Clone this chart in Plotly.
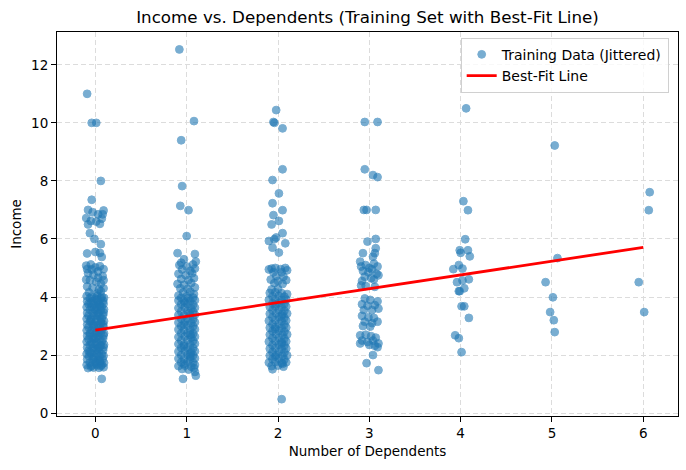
import plotly.graph_objects as go

# (jitter offset, income) pairs, one list per dependents value
DEP0 = [
    (-0.09, 11.0), (-0.04, 10.0), (0.01, 10.0), (0.06, 8.0), (-0.04, 7.35),
    (-0.08, 7.0), (0.09, 6.98), (-0.03, 6.92), (0.03, 6.85), (-0.1, 6.72),
    (0.07, 6.7), (-0.05, 6.62), (0.01, 6.6), (-0.08, 6.5), (0.05, 6.52),
    (0.08, 6.85), (-0.06, 6.2), (-0.01, 6.0), (0.06, 5.82), (-0.09, 5.5),
    (0.05, 5.52), (0.07, 5.38), (0.0, 5.55),
    (-0.1, 5.08), (-0.05, 5.12), (0.0, 5.02), (0.05, 5.06), (0.09, 4.96),
    (-0.08, 4.82), (-0.02, 4.76), (0.03, 4.88), (0.08, 4.72), (-0.06, 4.58),
    (0.01, 4.52), (0.06, 4.46), (-0.09, 4.36), (-0.03, 4.32), (0.04, 4.26),
    (0.09, 4.3), (-0.07, 4.16), (0.02, 4.12), (-0.1, 4.6), (0.09, 4.58),
    (-0.04, 4.95), (0.03, 4.66), (-0.09, 4.96), (0.06, 4.2),
    (-0.08, 1.55), (-0.02, 1.57), (0.04, 1.56), (0.09, 1.58),
    (-0.095, 1.66), (-0.04, 1.64), (0.02, 1.65), (0.07, 1.67),
    (-0.06, 1.74), (0.0, 1.76), (0.05, 1.75), (0.095, 1.73),
    (-0.09, 1.85), (-0.03, 1.86), (0.03, 1.84), (0.08, 1.86),
    (-0.07, 1.96), (-0.01, 1.94), (0.045, 1.95), (0.09, 1.97),
    (-0.095, 2.04), (-0.045, 2.06), (0.015, 2.05), (0.07, 2.03),
    (-0.075, 2.15), (-0.01, 2.16), (0.04, 2.14), (0.085, 2.16),
    (-0.09, 2.26), (-0.03, 2.24), (0.03, 2.25), (0.09, 2.27),
    (-0.06, 2.35), (0.0, 2.36), (0.06, 2.34), (0.095, 2.36),
    (-0.095, 2.46), (-0.045, 2.44), (0.015, 2.45), (0.07, 2.47),
    (-0.075, 2.55), (-0.01, 2.56), (0.045, 2.54), (0.085, 2.56),
    (-0.09, 2.66), (-0.03, 2.64), (0.03, 2.65), (0.09, 2.67),
    (-0.06, 2.75), (0.0, 2.74), (0.06, 2.76), (0.095, 2.75),
    (-0.095, 2.85), (-0.04, 2.86), (0.02, 2.84), (0.07, 2.86),
    (-0.075, 2.96), (-0.01, 2.94), (0.045, 2.95), (0.09, 2.97),
    (-0.09, 3.05), (-0.03, 3.06), (0.03, 3.04), (0.085, 3.06),
    (-0.06, 3.16), (0.0, 3.14), (0.06, 3.15), (0.095, 3.17),
    (-0.095, 3.25), (-0.045, 3.26), (0.015, 3.24), (0.07, 3.26),
    (-0.075, 3.36), (-0.01, 3.34), (0.045, 3.35), (0.085, 3.37),
    (-0.09, 3.45), (-0.03, 3.46), (0.03, 3.44), (0.09, 3.46),
    (-0.06, 3.56), (0.0, 3.54), (0.06, 3.55), (0.095, 3.57),
    (-0.095, 3.65), (-0.04, 3.66), (0.02, 3.64), (0.07, 3.66),
    (-0.075, 3.76), (-0.01, 3.74), (0.045, 3.75), (0.09, 3.77),
    (-0.09, 3.85), (-0.03, 3.86), (0.03, 3.84), (0.085, 3.86),
    (-0.06, 3.96), (0.0, 3.94), (0.06, 3.95), (0.095, 3.97),
    (-0.095, 4.03), (-0.04, 4.02), (0.02, 4.04), (0.07, 4.01),
    (-0.05, 1.6), (0.01, 1.7), (0.06, 1.62), (-0.02, 1.9), (0.05, 1.8),
    (-0.06, 2.1), (0.02, 2.2), (-0.03, 2.4), (0.05, 2.3), (0.0, 2.6),
    (-0.06, 2.7), (0.04, 2.8), (-0.02, 3.0), (0.06, 3.1), (-0.05, 3.2),
    (0.02, 3.4), (-0.01, 3.6), (0.05, 3.7), (-0.05, 3.8), (0.02, 3.9),
    (0.07, 1.18),
]

DEP1 = [
    (-0.08, 12.53), (0.08, 10.06), (-0.06, 9.4), (-0.05, 7.82), (-0.07, 7.14),
    (0.02, 6.99), (0.0, 6.1), (-0.1, 5.51), (0.09, 5.48), (-0.03, 5.3),
    (0.1, 5.22), (-0.06, 5.18),
    (-0.08, 5.1), (0.0, 5.05), (0.07, 5.12),
    (-0.05, 4.95), (0.04, 4.9), (0.09, 4.98),
    (-0.09, 4.8), (-0.01, 4.75), (0.06, 4.82),
    (-0.06, 4.62), (0.02, 4.58), (0.08, 4.65),
    (-0.1, 4.45), (-0.03, 4.42), (0.05, 4.48),
    (-0.07, 4.3), (0.01, 4.28), (0.09, 4.33),
    (-0.04, 4.15), (0.04, 4.18), (0.08, 4.1),
    (-0.09, 4.05), (0.0, 4.02),
    (-0.05, 1.52), (0.02, 1.5), (0.08, 1.55),
    (-0.09, 1.62), (-0.02, 1.64), (0.05, 1.6), (0.09, 1.66),
    (-0.06, 1.75), (0.01, 1.77), (0.07, 1.74),
    (-0.09, 1.88), (-0.03, 1.86), (0.04, 1.87), (0.09, 1.89),
    (-0.06, 2.0), (0.01, 2.02), (0.07, 1.99),
    (-0.09, 2.12), (-0.02, 2.14), (0.05, 2.11), (0.09, 2.13),
    (-0.06, 2.25), (0.01, 2.26), (0.07, 2.24),
    (-0.09, 2.38), (-0.03, 2.36), (0.04, 2.37), (0.09, 2.39),
    (-0.06, 2.5), (0.01, 2.52), (0.07, 2.49),
    (-0.09, 2.62), (-0.02, 2.64), (0.05, 2.61), (0.09, 2.63),
    (-0.06, 2.75), (0.01, 2.76), (0.07, 2.74),
    (-0.09, 2.88), (-0.03, 2.86), (0.04, 2.87), (0.09, 2.89),
    (-0.06, 3.0), (0.01, 3.02), (0.07, 2.99),
    (-0.09, 3.12), (-0.02, 3.14), (0.05, 3.11), (0.09, 3.13),
    (-0.06, 3.25), (0.01, 3.26), (0.07, 3.24),
    (-0.09, 3.38), (-0.03, 3.36), (0.04, 3.37), (0.09, 3.39),
    (-0.06, 3.5), (0.01, 3.52), (0.07, 3.49),
    (-0.09, 3.62), (-0.02, 3.64), (0.05, 3.61), (0.09, 3.63),
    (-0.06, 3.75), (0.01, 3.76), (0.07, 3.74),
    (-0.09, 3.88), (-0.03, 3.86), (0.04, 3.87), (0.09, 3.89),
    (-0.06, 3.97), (0.02, 3.96), (0.07, 3.98),
    (-0.03, 1.7), (0.04, 1.95), (-0.03, 2.3), (0.04, 2.7), (-0.03, 3.05),
    (0.03, 3.45), (-0.02, 3.8), (0.04, 2.05),
    (-0.04, 1.18), (0.1, 1.29), (0.09, 1.42),
]

DEP2 = [
    (-0.02, 10.44), (-0.05, 10.03), (-0.04, 10.0), (0.05, 9.81), (0.05, 8.4),
    (-0.06, 8.03), (0.01, 7.57), (-0.06, 7.23), (0.05, 6.99), (-0.05, 6.82),
    (0.01, 6.62), (-0.07, 6.5), (0.05, 6.2), (-0.1, 5.93), (-0.04, 5.99),
    (-0.02, 6.05), (0.08, 5.85), (-0.06, 5.7), (0.01, 5.53), (0.04, 0.48),
    (-0.1, 4.95), (-0.07, 4.98), (-0.03, 5.0), (0.03, 4.96), (0.08, 5.0),
    (0.1, 4.92), (-0.05, 4.85), (0.04, 4.85), (-0.02, 4.72), (0.06, 4.7),
    (-0.08, 4.6), (0.0, 4.55), (0.09, 4.58), (-0.04, 4.48), (0.05, 4.45),
    (0.1, 4.1),
    (-0.07, 1.62), (0.0, 1.64), (0.06, 1.6),
    (-0.1, 1.74), (-0.03, 1.76), (0.04, 1.73), (0.09, 1.75),
    (-0.06, 1.86), (0.01, 1.88), (0.07, 1.85),
    (-0.09, 1.98), (-0.02, 2.0), (0.05, 1.97), (0.1, 1.99),
    (-0.06, 2.1), (0.01, 2.12), (0.07, 2.09),
    (-0.09, 2.22), (-0.03, 2.24), (0.04, 2.21), (0.09, 2.23),
    (-0.06, 2.34), (0.01, 2.36), (0.07, 2.33),
    (-0.1, 2.46), (-0.03, 2.48), (0.04, 2.45), (0.09, 2.47),
    (-0.06, 2.58), (0.01, 2.6), (0.07, 2.57),
    (-0.09, 2.7), (-0.02, 2.72), (0.05, 2.69), (0.1, 2.71),
    (-0.06, 2.82), (0.01, 2.84), (0.07, 2.81),
    (-0.09, 2.94), (-0.03, 2.96), (0.04, 2.93), (0.09, 2.95),
    (-0.06, 3.06), (0.01, 3.08), (0.07, 3.05),
    (-0.1, 3.18), (-0.03, 3.2), (0.04, 3.17), (0.09, 3.19),
    (-0.06, 3.3), (0.01, 3.32), (0.07, 3.29),
    (-0.09, 3.42), (-0.02, 3.44), (0.05, 3.41), (0.1, 3.43),
    (-0.06, 3.54), (0.01, 3.56), (0.07, 3.53),
    (-0.09, 3.66), (-0.03, 3.68), (0.04, 3.65), (0.09, 3.67),
    (-0.06, 3.78), (0.01, 3.8), (0.07, 3.77),
    (-0.1, 3.9), (-0.03, 3.92), (0.04, 3.89), (0.09, 3.91),
    (-0.06, 4.02), (0.01, 4.04), (0.07, 4.01),
    (-0.09, 4.14), (-0.03, 4.16), (0.04, 4.13),
    (-0.07, 4.26), (0.0, 4.28),
    (-0.03, 1.95), (0.04, 2.4), (-0.03, 2.9), (0.04, 3.35), (-0.02, 3.75),
    (-0.06, 1.51), (0.05, 1.7),
]

DEP3 = [
    (-0.05, 10.03), (0.09, 10.03), (-0.05, 8.4), (0.04, 8.2), (0.09, 8.13),
    (-0.06, 7.0), (-0.03, 7.0), (0.07, 7.0), (-0.02, 5.91), (0.07, 6.0),
    (-0.07, 5.51), (-0.1, 5.22), (0.07, 5.68), (0.06, 5.51), (0.04, 5.39),
    (-0.09, 5.05), (-0.04, 5.1), (0.0, 5.0), (0.05, 5.15), (0.09, 5.05),
    (-0.07, 4.9), (-0.01, 4.85), (0.03, 4.95), (0.08, 4.8), (-0.05, 4.7),
    (0.02, 4.65), (0.1, 4.75), (-0.08, 4.55), (0.05, 4.6),
    (-0.09, 4.4), (-0.04, 4.38), (0.06, 4.35),
    (-0.05, 3.95), (0.01, 3.9), (0.09, 3.85), (-0.08, 3.75), (-0.02, 3.7),
    (0.06, 3.72), (0.1, 3.6), (-0.06, 3.55), (0.03, 3.55),
    (-0.08, 3.35), (-0.01, 3.3), (0.05, 3.28), (-0.05, 3.15), (0.03, 3.1),
    (0.09, 3.15), (-0.07, 3.0), (0.01, 2.98),
    (-0.1, 2.68), (-0.04, 2.7), (0.02, 2.65), (0.07, 2.6), (-0.08, 2.5),
    (-0.02, 2.45), (0.04, 2.5), (0.1, 2.4), (-0.1, 2.4), (0.0, 2.35),
    (0.06, 2.32), (0.09, 2.27),
    (0.04, 2.0), (-0.03, 1.72), (0.1, 1.48),
]

DEP4 = [
    (0.06, 10.5), (0.03, 7.3), (0.08, 6.99), (0.05, 5.99), (-0.01, 5.61),
    (0.0, 5.52), (0.08, 5.61), (0.1, 5.4), (-0.08, 4.96), (-0.02, 5.1),
    (0.02, 4.98), (-0.04, 4.51), (0.02, 4.57), (0.09, 4.61), (-0.02, 4.2),
    (-0.01, 4.2), (0.04, 4.3), (0.01, 3.68), (0.04, 3.68), (0.09, 3.28),
    (-0.06, 2.68), (-0.02, 2.58), (0.01, 2.1),
]

DEP5 = [
    (0.03, 9.22), (0.06, 5.34), (-0.07, 4.51), (0.01, 3.99), (-0.02, 3.48),
    (0.02, 3.2), (0.03, 2.79),
]

DEP6 = [
    (0.07, 7.61), (0.06, 6.99), (-0.05, 4.51), (0.01, 3.48),
]

GROUPS = [DEP0, DEP1, DEP2, DEP3, DEP4, DEP5, DEP6]

# fitted line
FIT_INTERCEPT = 2.86
FIT_SLOPE = 0.475
FIT_X = [0, 6]

xs, ys = [], []
for dep, pts in enumerate(GROUPS):
    for jit, inc in pts:
        xs.append(dep + jit)
        ys.append(inc)

fig = go.Figure()
fig.add_trace(go.Scatter(
    x=xs, y=ys, mode="markers", name="Training Data (Jittered)",
    marker=dict(size=7.8, color="#1f77b4", opacity=0.6,
                line=dict(width=1, color="#1f77b4")),
))
fig.add_trace(go.Scatter(
    x=FIT_X, y=[FIT_INTERCEPT + FIT_SLOPE * v for v in FIT_X],
    mode="lines", name="Best-Fit Line",
    line=dict(color="red", width=2.8),
))

axis_common = dict(
    showline=True, mirror=True, linecolor="black", linewidth=1,
    ticks="outside", ticklen=5, tickwidth=1, tickcolor="black",
    showgrid=True, gridcolor="#dcdcdc", griddash="5px,3px", gridwidth=1,
    zeroline=False, automargin=False,
    tickfont=dict(size=13.5, color="black"),
    title_font=dict(size=13.5, color="black"),
)

fig.update_layout(
    width=686, height=470,
    margin=dict(l=57, r=8, t=32, b=54, autoexpand=False),
    paper_bgcolor="white", plot_bgcolor="white",
    font=dict(family="DejaVu Sans", color="black"),
    title=dict(text="Income vs. Dependents (Training Set with Best-Fit Line)",
               x=0.5, xref="paper", y=1 - 17 / 470, yanchor="middle",
               font=dict(size=16.7, color="black")),
    xaxis=dict(range=[-0.42, 6.38], tickvals=[0, 1, 2, 3, 4, 5, 6],
               title=dict(text="Number of Dependents", standoff=6), **axis_common),
    yaxis=dict(range=[-0.1, 13.13], tickvals=[0, 2, 4, 6, 8, 10, 12],
               title=dict(text="Income", standoff=6), **axis_common),
    legend=dict(x=0.985, xanchor="right", y=0.985, yanchor="top",
                bgcolor="rgba(255,255,255,0.8)", bordercolor="#d0d0d0",
                borderwidth=1, font=dict(size=14), tracegroupgap=0),
    showlegend=True,
)

# drop the page's default body margin so the figure sits at the window corner
fig.write_html("out.html", config={"displayModeBar": False},
               post_script="document.body.style.margin='0px';")
